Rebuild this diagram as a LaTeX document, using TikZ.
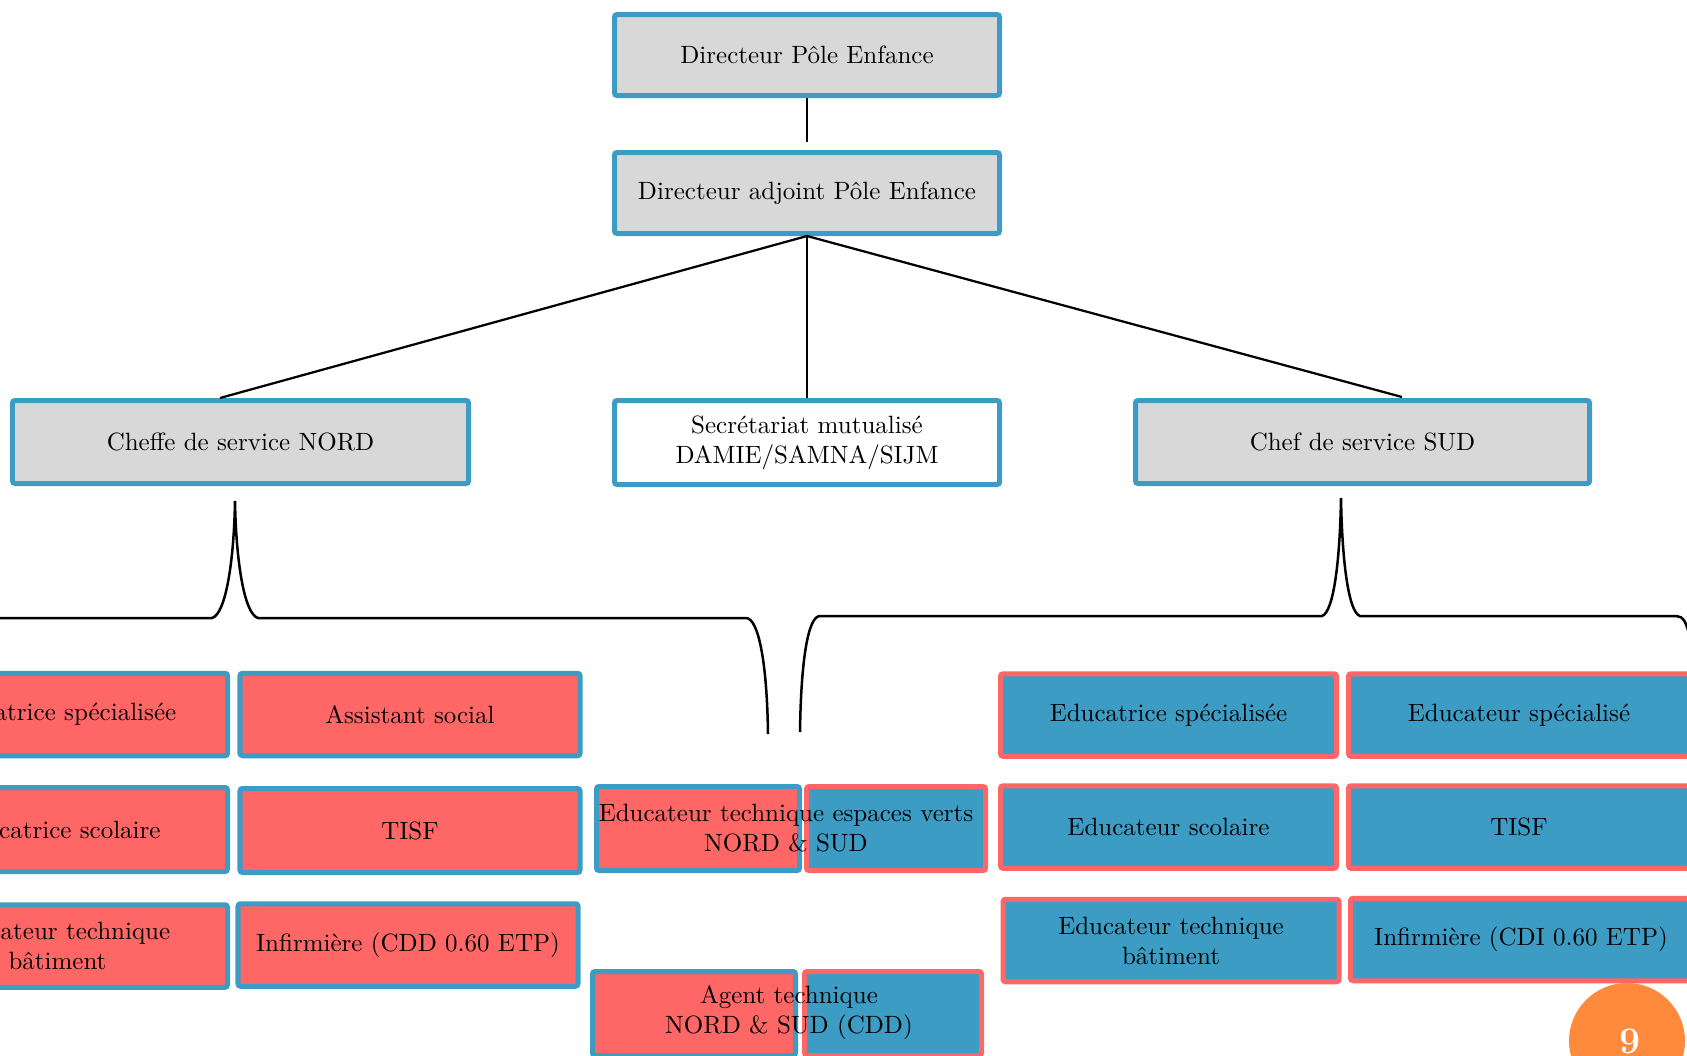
\documentclass[tikz,border=0pt]{standalone}
\usepackage{fontspec}
\definecolor{cblue}{HTML}{3C9CC3}
\definecolor{cred}{HTML}{FF6666}
\definecolor{cgray}{HTML}{D8D8D8}
\definecolor{corange}{HTML}{FF8A3B}
\begin{document}
\begin{tikzpicture}[x=0.4pt,y=-0.4pt,
  every node/.style={font=\fontsize{10}{12}\selectfont},
  base/.style={draw, line width=2pt, rounded corners=1pt, inner sep=0pt, align=center},
  gbox/.style={base, draw=cblue, fill=cgray},
  wbox/.style={base, draw=cblue, fill=white},
  nbox/.style={base, draw=cblue, fill=cred, minimum width=136pt, minimum height=33pt},
  sbox/.style={base, draw=cred, fill=cblue, minimum width=135.4pt, minimum height=33pt},
  mred/.style={base, draw=cblue, fill=cred, minimum width=81.2pt, minimum height=33.6pt},
  mblue/.style={base, draw=cred, fill=cblue, minimum height=33.6pt},
  link/.style={draw=black, line width=0.9pt},
  bracepath/.style={draw=black, line width=1pt},
]
\useasboundingbox (0,0) rectangle (1687,1055);
\clip (0,0) rectangle (1687,1055);

% top levels
\node[gbox, minimum width=154pt, minimum height=32.4pt] (dir) at (807,55) {Directeur Pôle Enfance};
\node[gbox, minimum width=154pt, minimum height=32.4pt] (adj) at (807,193) {Directeur adjoint Pôle Enfance};
\node[gbox, minimum width=182.4pt, minimum height=33.2pt] (nord) at (240.5,442) {Cheffe de service NORD};
\node[wbox, minimum width=154pt, minimum height=33.6pt] (sec) at (807,442.5) {Secrétariat mutualisé\\DAMIE/SAMNA/SIJM};
\node[gbox, minimum width=181.6pt, minimum height=33.2pt] (sud) at (1362.5,442) {Chef de service SUD};

\coordinate (dirstub) at (807,142);
\coordinate (nordtop) at (220,398);
\coordinate (sudtop) at (1402,397);
\draw[link] (dir.south) -- (dirstub);
\draw[link] (adj.south) -- (nordtop);
\draw[link] (adj.south) -- (sec.north);
\draw[link] (adj.south) -- (sudtop);

% braces
\draw[bracepath] (-20,618) -- (212,618) .. controls (226,614) and (234,560) .. (235,501)
  .. controls (236,560) and (244,614) .. (258,618) -- (746,618)
  .. controls (758,618) and (767,660) .. (768,734);
\draw[bracepath] (800,732) .. controls (801,660) and (808,616) .. (820,616) -- (1322,616)
  .. controls (1334,612) and (1340,558) .. (1341,498)
  .. controls (1342,558) and (1348,612) .. (1360,616) -- (1676,616)
  .. controls (1683,616) and (1687,622) .. (1690,640);

% NORD staff
\node[nbox] (n11) at (57.5,714.5) {Educatrice spécialisée};
\node[nbox] (n12) at (410,714.5) {Assistant social};
\node[nbox, minimum height=33.6pt] (n21) at (57.5,829.5) {Educatrice scolaire};
\node[nbox, minimum height=33.6pt] (n22) at (410,830.5) {TISF};
\node[nbox] (n31) at (57.5,946) {Educateur technique\\bâtiment};
\node[nbox] (n32) at (408,945) {Infirmière (CDD 0.60 ETP)};

% shared staff
\node[mred] (a1) at (698,828.5) {};
\node[mblue, minimum width=71.6pt] (a2) at (896,828.5) {};
\node[align=center, inner sep=0pt] (at) at (786,828) {Educateur technique espaces verts\\NORD \& SUD};
\node[mred] (b1) at (694,1013.5) {};
\node[mblue, minimum width=70.8pt] (b2) at (893,1013.5) {};
\node[align=center, inner sep=0pt] (bt) at (789,1013) {Agent technique\\NORD \& SUD (CDD)};

% SUD staff
\node[sbox, minimum width=134.4pt] (s11) at (1168.5,715) {Educatrice spécialisée};
\node[sbox, minimum width=136.4pt] (s12) at (1519,715) {Educateur spécialisé};
\node[sbox, minimum width=134.4pt] (s21) at (1168.5,827) {Educateur scolaire};
\node[sbox, minimum width=136.4pt] (s22) at (1519,827) {TISF};
\node[sbox, minimum width=134.4pt] (s31) at (1171,940.5) {Educateur technique\\bâtiment};
\node[sbox, minimum width=136.4pt] (s32) at (1521,939.5) {Infirmière (CDI 0.60 ETP)};

% page number
\node[circle, fill=corange, minimum size=46.4pt, inner sep=0pt] (pg) at (1627,1041) {};
\node[text=white, font=\bfseries\fontsize{15}{15}\selectfont, inner sep=0pt] (pgnum) at (1630,1041) {9};
\end{tikzpicture}
\end{document}
